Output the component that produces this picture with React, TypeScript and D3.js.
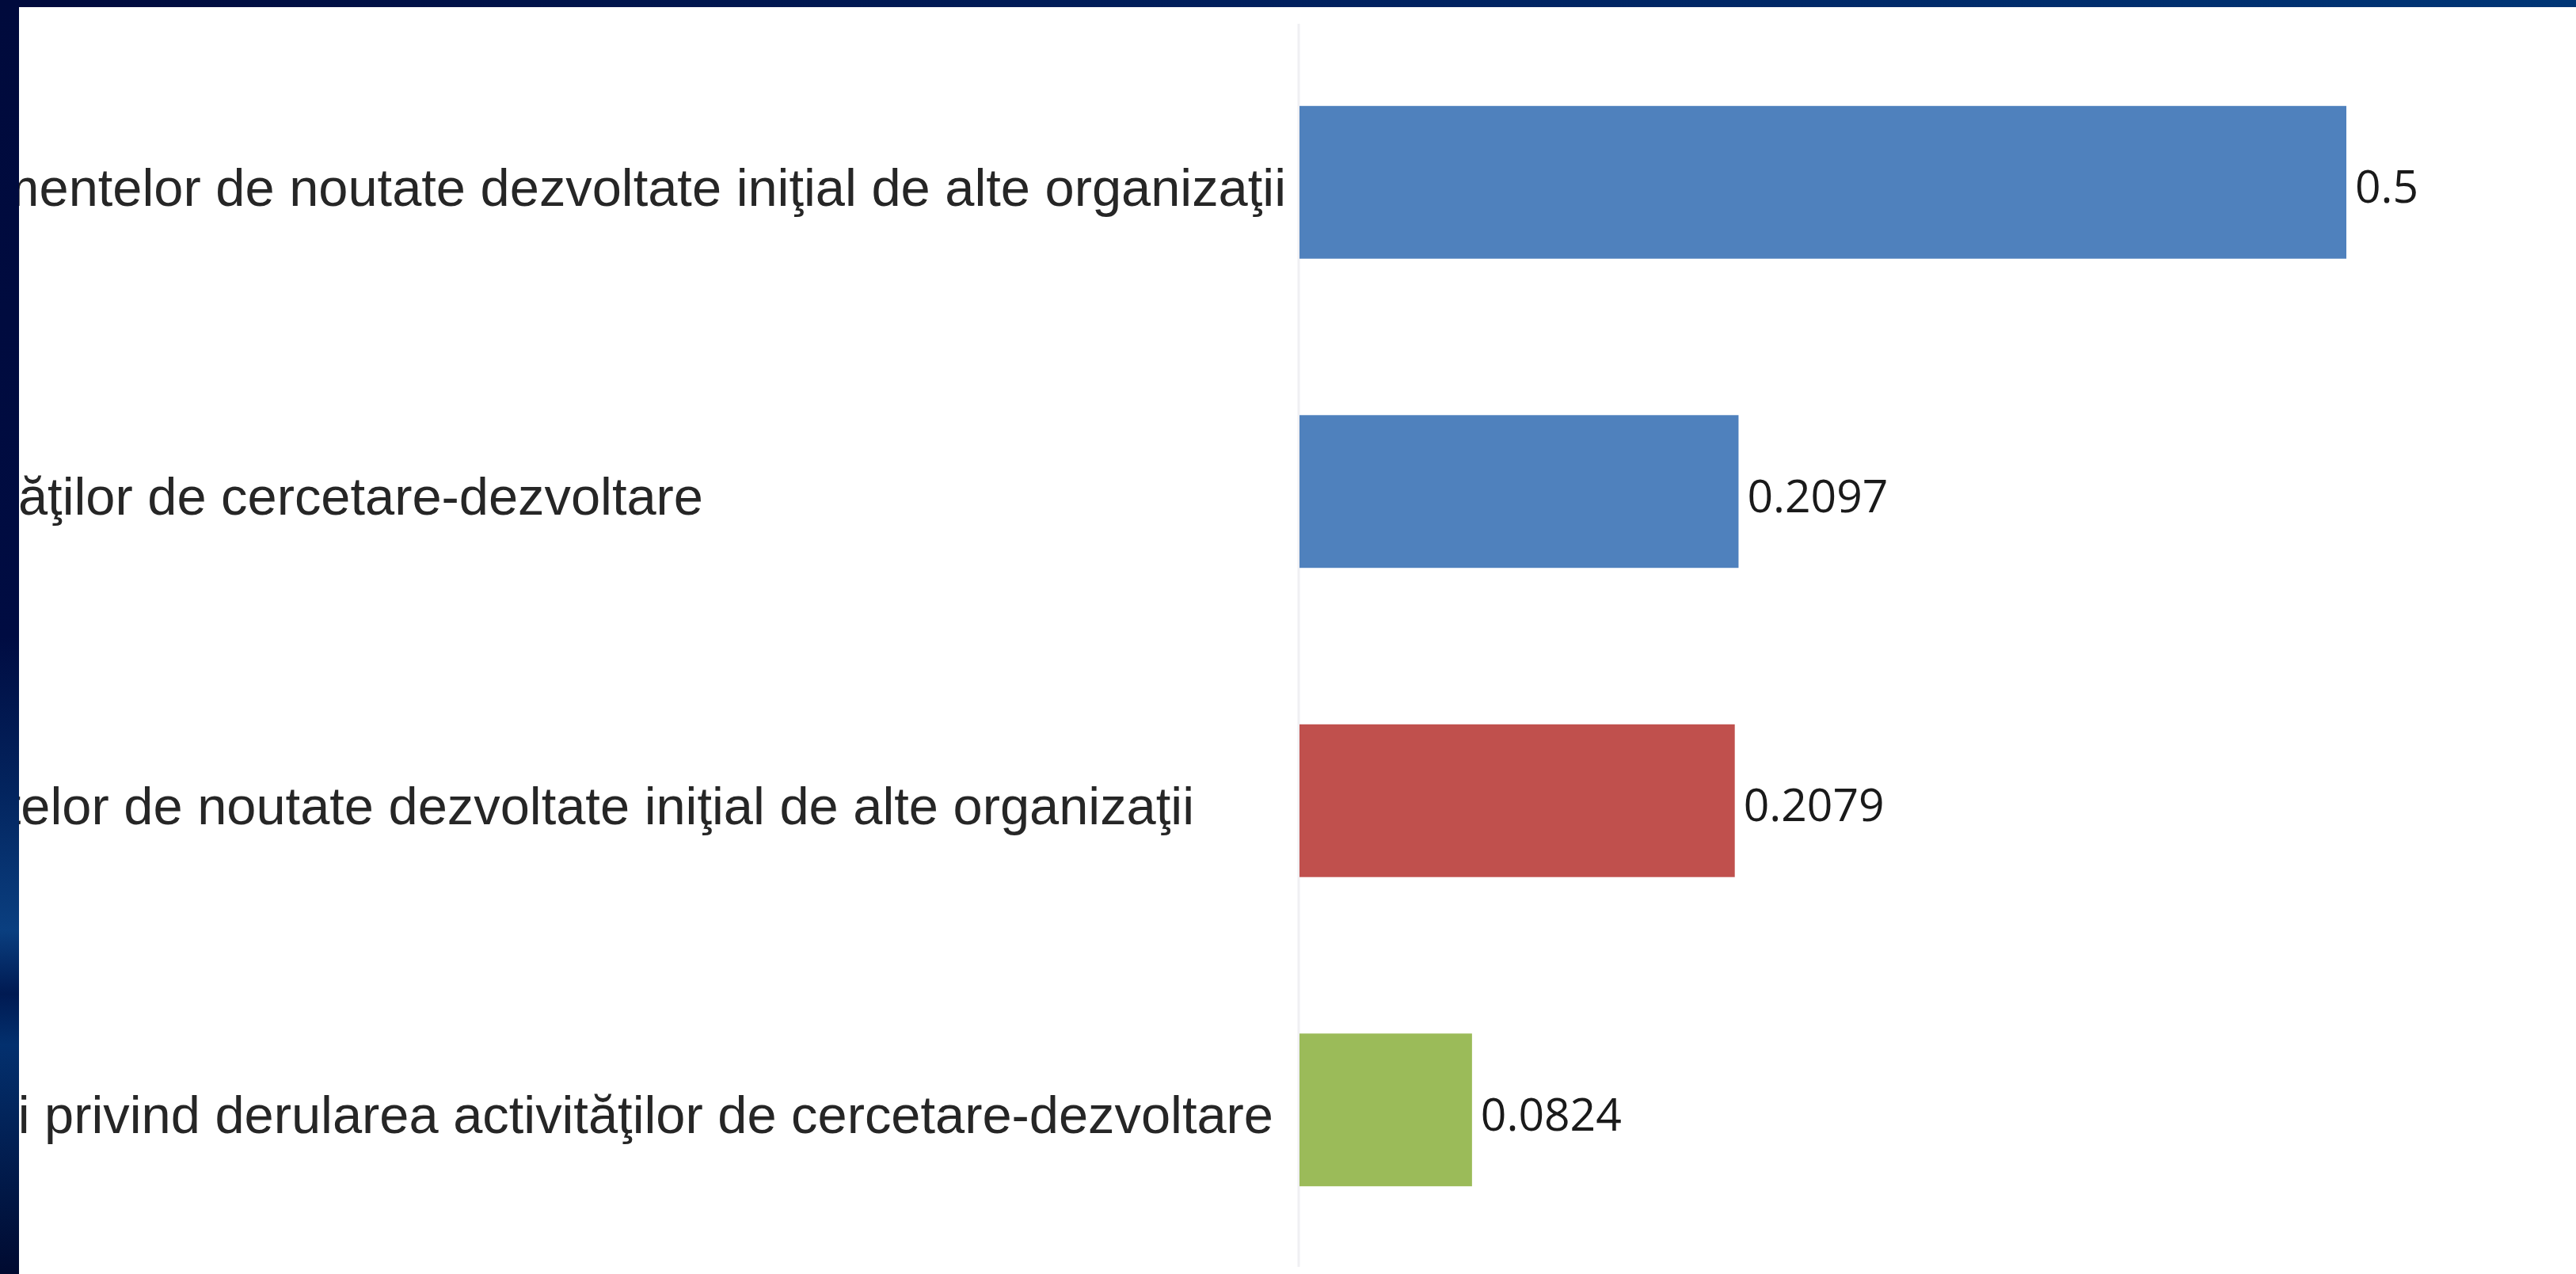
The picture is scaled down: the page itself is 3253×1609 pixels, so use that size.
import React from "react";
import * as d3 from "d3";

const categories = [
  "mentelor de noutate dezvoltate iniţial de alte organizaţii",
  "ăţilor de cercetare-dezvoltare",
  "telor de noutate dezvoltate iniţial de alte organizaţii",
  "i privind derularea activităţilor de cercetare-dezvoltare",
];
const values = [0.5, 0.2097, 0.2079, 0.0824];
const valueLabels = ["0.5", "0.2097", "0.2079", "0.0824"];
const barColors = ["#4f81bd", "#4f81bd", "#c0504d", "#9bbb59"];

const W = 3253;
const H = 1609;
// right end of each (left-aligned, clipped) category label
const labelEnds = [1624, 888, 1508, 1608];

export default function App() {
  const x = d3.scaleLinear().domain([0, 0.5]).range([1641, 2963]);
  const y = d3
    .scaleBand<string>()
    .domain(categories)
    .range([35, 1597])
    .paddingInner(0.506)
    .paddingOuter(0.253);
  const bw = y.bandwidth();

  return (
    <svg
      width={W}
      height={H}
      style={{ position: "absolute", left: 0, top: 0, display: "block" }}
    >
      <defs>
        <linearGradient id="topStrip" x1="0" x2="1" y1="0" y2="0">
          <stop offset="0" stopColor="#000a3c" />
          <stop offset="0.5" stopColor="#00205e" />
          <stop offset="1" stopColor="#003676" />
        </linearGradient>
        <linearGradient id="leftStrip" x1="0" x2="0" y1="0" y2="1">
          <stop offset="0" stopColor="#000a3c" />
          <stop offset="0.5" stopColor="#000c42" />
          <stop offset="0.62" stopColor="#03245e" />
          <stop offset="0.73" stopColor="#0a3f80" />
          <stop offset="0.78" stopColor="#001a52" />
          <stop offset="0.82" stopColor="#03306e" />
          <stop offset="1" stopColor="#000a30" />
        </linearGradient>
      </defs>
      <rect x={0} y={0} width={W} height={H} fill="#ffffff" />
      <line x1={1640} x2={1640} y1={30} y2={1600} stroke="#f0f0f3" strokeWidth={3} />
      {categories.map((c, i) => (
        <text
          key={"l" + i}
          x={labelEnds[i]}
          y={(y(c) as number) + bw / 2}
          dy="0.44em"
          textAnchor="end"
          fontFamily="'Liberation Sans', Arial, sans-serif"
          fontSize={66.8}
          fill="#262626"
        >
          {c}
        </text>
      ))}
      {categories.map((c, i) => (
        <rect
          key={"b" + i}
          x={x(0)}
          y={y(c) as number}
          width={x(values[i]) - x(0)}
          height={bw}
          fill={barColors[i]}
        />
      ))}
      {categories.map((c, i) => (
        <text
          key={"v" + i}
          x={x(values[i]) + 11}
          y={(y(c) as number) + bw / 2}
          dy="0.46em"
          textAnchor="start"
          fontFamily="'Open Sans', 'Noto Sans', sans-serif"
          fontSize={57}
          fill="#1a1a1a"
        >
          {valueLabels[i]}
        </text>
      ))}
      <rect x={0} y={0} width={W} height={9} fill="url(#topStrip)" />
      <rect x={0} y={0} width={24} height={H} fill="url(#leftStrip)" />
    </svg>
  );
}
